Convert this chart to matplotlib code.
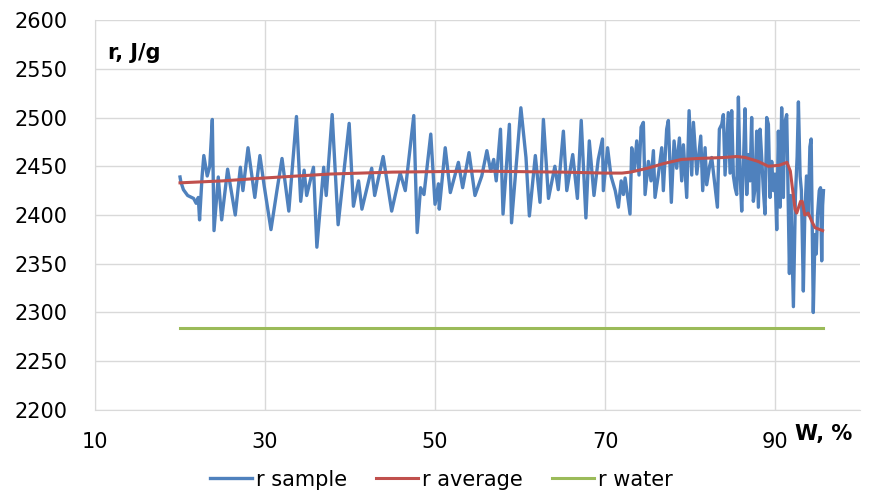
import matplotlib
matplotlib.use("Agg")
import matplotlib.pyplot as plt

# blue: sample (W %, r J/g)
w_sample = [20.0, 20.1, 20.4, 20.9, 21.6, 21.9, 22.15, 22.3, 22.6, 22.8, 23.2, 23.5, 23.8, 24.0,
            24.5, 24.9, 25.6, 26.5, 27.1, 27.4, 28.0, 28.8, 29.4, 29.9, 30.7, 31.4, 32.0, 32.8,
            33.7, 34.2, 34.6, 34.9, 35.7, 36.1, 36.9, 37.2, 37.9, 38.6, 39.9, 40.4, 41.0, 41.4,
            42.55, 42.9, 43.9, 44.9, 45.9, 46.5, 47.5, 47.9, 48.3, 48.7, 49.5, 50.0, 50.4, 50.5,
            51.2, 51.8, 52.75, 53.25, 54.0, 54.7, 55.5, 56.1, 56.55, 56.9, 57.2, 57.7, 58.0, 58.75,
            59.0, 60.1, 60.7, 61.1, 61.8, 62.35, 62.75, 63.35, 64.1, 64.5, 65.1, 65.5, 66.2, 66.75,
            67.2, 67.75, 68.15, 68.7, 69.2, 69.7, 69.8, 70.3, 70.7, 71.2, 71.57, 71.9, 72.16, 72.36,
            72.94, 73.14, 73.45, 73.73, 74.0, 74.24, 74.51, 74.71, 75.1, 75.41, 75.69, 75.88, 76.27,
            76.67, 76.86, 77.25, 77.45, 77.8, 78.12, 78.43, 78.75, 79.02, 79.22, 79.61, 79.89, 80.2,
            80.4, 80.8, 81.26, 81.49, 81.77, 81.96, 82.3, 82.55, 82.8, 83.22, 83.45, 83.73, 83.92,
            84.12, 84.5, 84.71, 84.9, 85.1, 85.3, 85.49, 85.69, 85.88, 86.08, 86.28, 86.47, 86.67,
            86.86, 87.06, 87.25, 87.45, 87.65, 87.84, 88.04, 88.24, 88.43, 88.63, 88.82, 89.02,
            89.22, 89.41, 89.61, 89.8, 90.0, 90.2, 90.39, 90.59, 90.78, 90.98, 91.1, 91.37, 91.5,
            91.69, 91.85, 91.96, 92.16, 92.4, 92.6, 92.75, 92.95, 93.1, 93.33, 93.5, 93.7, 93.9,
            94.1, 94.25, 94.5, 94.7, 94.85, 95.0, 95.2, 95.35, 95.49, 95.6, 95.7]
r_sample = [2439, 2434, 2426, 2420, 2417, 2412, 2418, 2395, 2440, 2461, 2440, 2450, 2498, 2384,
            2439, 2395, 2447, 2400, 2449, 2425, 2469, 2418, 2461, 2430, 2385, 2425, 2458, 2404,
            2501, 2414, 2446, 2420, 2449, 2367, 2449, 2420, 2503, 2390, 2494, 2409, 2435, 2406,
            2448, 2420, 2460, 2404, 2443, 2425, 2502, 2382, 2428, 2421, 2483, 2411, 2432, 2406,
            2469, 2423, 2454, 2428, 2464, 2420, 2440, 2466, 2445, 2457, 2435, 2488, 2401, 2493,
            2392, 2510, 2459, 2399, 2461, 2413, 2498, 2417, 2450, 2426, 2486, 2425, 2462, 2417,
            2497, 2397, 2476, 2420, 2457, 2478, 2425, 2469, 2440, 2425, 2408, 2435, 2421, 2438,
            2401, 2469, 2447, 2476, 2441, 2490, 2495, 2421, 2455, 2435, 2466, 2418, 2441,
            2469, 2425, 2488, 2497, 2413, 2476, 2448, 2479, 2435, 2472, 2418, 2507, 2441,
            2495, 2442, 2481, 2425, 2469, 2431, 2450, 2459, 2440, 2408, 2488, 2493, 2503,
            2441, 2505, 2443, 2507, 2440, 2428, 2421, 2521, 2443, 2404, 2452, 2509, 2421,
            2462, 2435, 2500, 2414, 2428, 2486, 2408, 2488, 2459, 2425, 2401, 2500,
            2493, 2418, 2455, 2425, 2442, 2385, 2486, 2408, 2510, 2418, 2493, 2503, 2440,
            2340, 2420, 2380, 2306, 2420, 2460, 2516, 2440, 2425, 2322, 2400, 2440, 2400,
            2470, 2478, 2300, 2380, 2360, 2400, 2425, 2428, 2353, 2410, 2425]

# red: average
w_avg = [20, 25, 30, 37.6, 45, 55, 65, 70, 72, 73, 75, 77, 79, 81, 84, 85.5, 86.5, 88, 89.2,
         90.5, 91.4, 91.8, 92.35, 92.55, 93.0, 93.2, 93.5, 93.9, 94.3, 94.7, 95.3, 95.6]
r_avg = [2433, 2435, 2438, 2442, 2444, 2445, 2444, 2443, 2443, 2444, 2448, 2453, 2457, 2458,
         2459, 2460, 2459, 2455, 2450, 2451, 2454, 2445, 2406, 2402, 2414, 2414, 2400, 2402,
         2394, 2387, 2385, 2384]

# green: water
w_water = [20, 95.6]
r_water = [2284, 2284]

plt.rcParams.update({"font.family": "DejaVu Sans", "font.size": 15})

fig = plt.figure(figsize=(8.83, 4.92), dpi=100)
ax = fig.add_axes([0.1076, 0.1667, 0.8664, 0.7926])

ax.plot(w_sample, r_sample, color="#4F81BD", lw=2.4, label="r sample", zorder=3)
ax.plot(w_avg, r_avg, color="#C0504D", lw=2.2, label="r average", zorder=4)
ax.plot(w_water, r_water, color="#9BBB59", lw=2.2, label="r water", zorder=3)

ax.set_xlim(10, 100)
ax.set_ylim(2200, 2600)
ax.set_xticks([10, 30, 50, 70, 90])
ax.set_yticks(range(2200, 2601, 50))
ax.grid(True, color="#d9d9d9", lw=1.0)
ax.set_axisbelow(True)
for s in ("top", "right"):
    ax.spines[s].set_visible(False)
for s in ("left", "bottom"):
    ax.spines[s].set_color("#d9d9d9")
ax.tick_params(axis="both", length=0, colors="black")
ax.tick_params(axis="y", pad=20)
ax.tick_params(axis="x", pad=16)

ax.text(0.017, 0.915, "r, J/g", transform=ax.transAxes, fontweight="bold",
        fontsize=15, va="center", ha="left")
fig.text(0.90, 0.118, "W, %", fontweight="bold", fontsize=15, va="center", ha="left")

fig.legend(loc="center", bbox_to_anchor=(0.5, 0.025), ncol=3, frameon=False,
           handlelength=2.0, handletextpad=0.2, columnspacing=1.4, fontsize=15)

fig.savefig("out.png", dpi=100)
